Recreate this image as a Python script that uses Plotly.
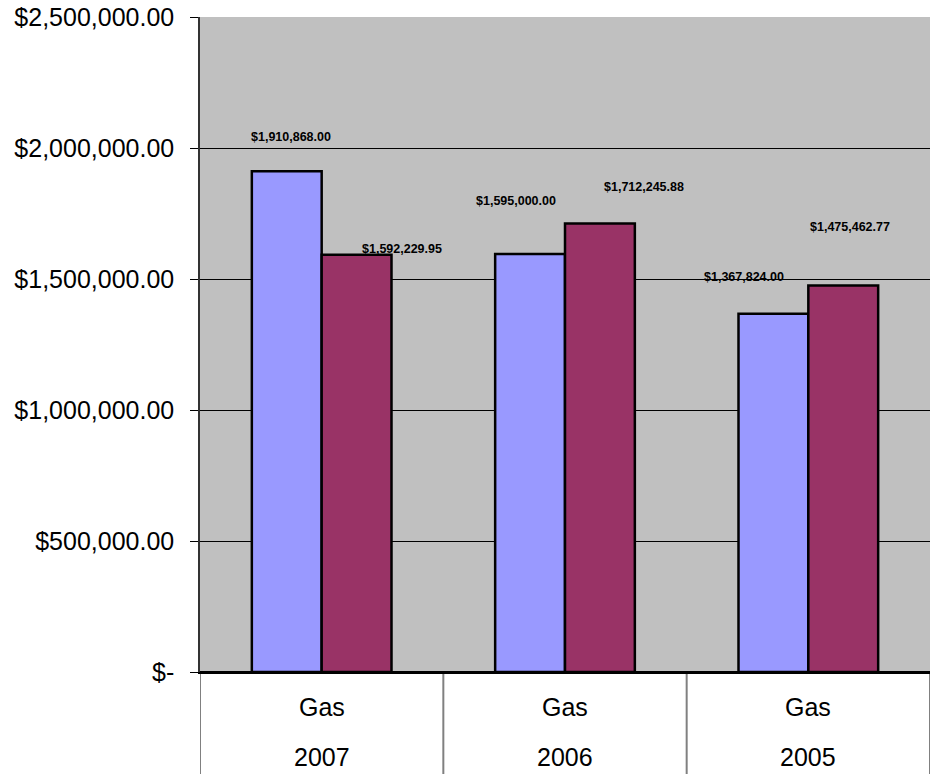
import plotly.graph_objects as go

years = ["2007", "2006", "2005"]
fuel = ["Gas", "Gas", "Gas"]
series_a = [1910868.00, 1595000.00, 1367824.00]
series_b = [1592229.95, 1712245.88, 1475462.77]
y_ticks = [0, 500000, 1000000, 1500000, 2000000, 2500000]

# label offsets (pixels) relative to category centre / bar top
a_dx = [-31, -49, -64]
a_dy = [34, 53, 37]
b_dx = [80, 79, 42]
b_dy = [6, 36, 58]

FONT = "Liberation Sans, Arial, sans-serif"
PLOT_H = 774 - 17 - 102

def money(v):
    return "$-" if v == 0 else "${:,.2f}".format(v)

fig = go.Figure()
fig.add_trace(go.Bar(x=years, y=series_a, name="A",
                     marker=dict(color="#9999FF", line=dict(color="black", width=2.5))))
fig.add_trace(go.Bar(x=years, y=series_b, name="B",
                     marker=dict(color="#993366", line=dict(color="black", width=2.5))))

for i in range(len(years)):
    for vals, dx, dy in ((series_a, a_dx, a_dy), (series_b, b_dx, b_dy)):
        fig.add_annotation(x=i, y=vals[i], text="<b>" + money(vals[i]) + "</b>",
                           showarrow=False, xshift=dx[i], yshift=dy[i],
                           yanchor="middle", xanchor="center",
                           font=dict(family=FONT, size=12.5, color="black"))
    # two-level category labels
    fig.add_annotation(x=i, y=0, yref="paper", text=fuel[i], showarrow=False,
                       yanchor="middle", yshift=-35,
                       font=dict(family=FONT, size=25, color="black"))
    fig.add_annotation(x=i, y=0, yref="paper", text=years[i], showarrow=False,
                       yanchor="middle", yshift=-85,
                       font=dict(family=FONT, size=25, color="black"))

# category dividers below the axis
for k in range(len(years) + 1):
    fig.add_shape(type="line", xref="x", yref="paper",
                  x0=k - 0.5, x1=k - 0.5, y0=0, y1=-102 / PLOT_H,
                  line=dict(color="#808080", width=2), layer="below")

fig.update_layout(
    width=930, height=774,
    margin=dict(l=200, r=0, t=17, b=102),
    plot_bgcolor="#C0C0C0", paper_bgcolor="white",
    barmode="group", bargap=0.426, bargroupgap=0,
    showlegend=False,
    font=dict(family=FONT, size=25, color="black"),
)
fig.update_yaxes(range=[0, 2500000], tickvals=y_ticks,
                 ticktext=[money(v) for v in y_ticks],
                 showgrid=True, gridcolor="black", gridwidth=1,
                 showline=True, linecolor="#333333", linewidth=1.5,
                 ticks="outside", ticklen=8, tickcolor="black",
                 ticklabelstandoff=11,
                 zeroline=True, zerolinecolor="black", zerolinewidth=1.5,
                 tickfont=dict(family=FONT, size=25, color="black"))
fig.update_xaxes(type="category", showgrid=False, showticklabels=False,
                 range=[-0.5, len(years) - 0.5],
                 showline=True, linecolor="black", linewidth=1.5)

fig.write_html("out.html")
